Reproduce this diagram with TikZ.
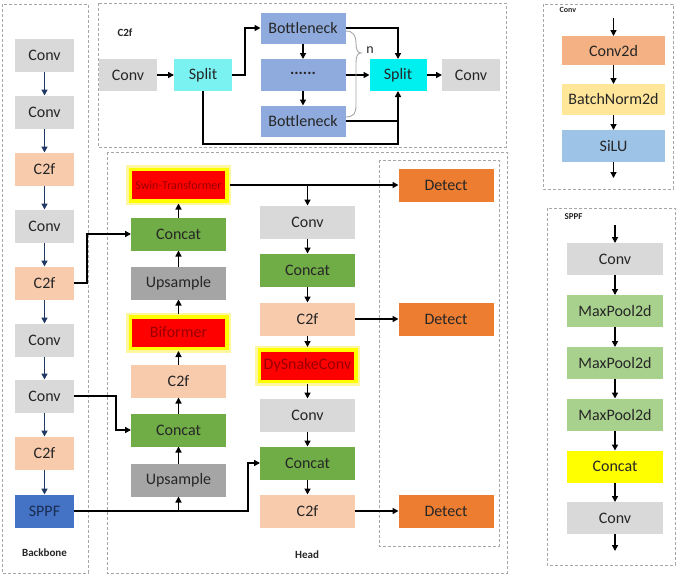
\documentclass[tikz,border=0pt]{standalone}
\usepackage{fontspec}
\setmainfont{Carlito}
\usetikzlibrary{arrows.meta}
\definecolor{cgray}{HTML}{D9D9D9}
\definecolor{cpeach}{HTML}{F8CBAD}
\definecolor{cgreen}{HTML}{70AD47}
\definecolor{cup}{HTML}{A5A5A5}
\definecolor{corange}{HTML}{ED7D31}
\definecolor{cred}{HTML}{FF0000}
\definecolor{credtxt}{HTML}{9A0000}
\definecolor{csplitA}{HTML}{7AF2F2}
\definecolor{csplitB}{HTML}{00F0F0}
\definecolor{cbneck}{HTML}{8FAADC}
\definecolor{csppf}{HTML}{4472C4}
\definecolor{cmp}{HTML}{A9D18E}
\definecolor{cyel}{HTML}{FFFF00}
\definecolor{cconv2d}{HTML}{F4B183}
\definecolor{cbn}{HTML}{FFE699}
\definecolor{csilu}{HTML}{9DC3E6}
\definecolor{cnavy}{HTML}{1F3864}
\definecolor{cframe}{HTML}{A6A6A6}
\definecolor{ctext}{HTML}{262626}
\definecolor{cglow}{HTML}{FFF7A0}
\begin{document}
\begin{tikzpicture}[x=1pt,y=-1pt,
  blk/.style={inner sep=0pt, outer sep=0pt, minimum width=#1, minimum height=33pt,
     font=\fontsize{16}{18}\selectfont, text=ctext},
  blk/.default=59pt,
  hb/.style={blk=95pt},
  redbox/.style={inner sep=0pt, minimum width=93pt, minimum height=28pt, fill=cred,
     text=credtxt, font=\fontsize{16}{18}\selectfont, outer sep=4.5pt,
     preaction={draw=cglow, line width=12pt},
     preaction={draw=cyel, line width=7pt}},
  frame/.style={draw=cframe, line width=0.8pt, dash pattern=on 3pt off 2pt},
  lbl/.style={font=\bfseries\fontsize{11}{13}\selectfont, text=ctext},
  arr/.style={draw=black, line width=1.8pt, -{Triangle[length=6pt,width=6pt]}},
  ln/.style={draw=black, line width=1.8pt},
  narr/.style={draw=cnavy, line width=1.6pt, -{Triangle[length=6pt,width=6pt]}},
  parr/.style={draw=black, line width=1.4pt, -{Triangle[length=6pt,width=6pt]}}
]
\useasboundingbox[fill=white] (0,0) rectangle (685,576);

% ---------------- frames ----------------
\draw[frame] (2,4) rectangle (88,573);
\draw[frame] (98,3) rectangle (506,147);
\draw[frame] (107,152) rectangle (507,573);
\draw[frame] (379,160) rectangle (499,546);
\draw[frame] (543,4) rectangle (673,189);
\draw[frame] (547,208) rectangle (675,565);

% ---------------- backbone ----------------
\node[blk, fill=cgray]  (b1) at (44.5,55)  {Conv};
\node[blk, fill=cgray]  (b2) at (44.5,112) {Conv};
\node[blk, fill=cpeach] (b3) at (44.5,169) {C2f};
\node[blk, fill=cgray]  (b4) at (44.5,226) {Conv};
\node[blk, fill=cpeach] (b5) at (44.5,283) {C2f};
\node[blk, fill=cgray]  (b6) at (44.5,340) {Conv};
\node[blk, fill=cgray]  (b7) at (44.5,396) {Conv};
\node[blk, fill=cpeach] (b8) at (44.5,453) {C2f};
\node[blk, fill=csppf, text=cnavy!80!black] (b9) at (44.5,511) {SPPF};
\node[lbl] (bbl) at (44.5,553) {Backbone};
\foreach \a/\b in {b1/b2,b2/b3,b3/b4,b4/b5,b5/b6,b6/b7,b7/b8,b8/b9}
  \draw[narr] (\a) -- (\b);

% ---------------- C2f panel ----------------
\node[lbl] (c2flbl) at (125,33) {C2f};
\node[blk=58pt, minimum height=32pt, fill=cgray]   (cconv1)  at (128,75) {Conv};
\node[blk=58pt, minimum height=32pt, fill=csplitA] (csplit1) at (203,75) {Split};
\node[blk=85pt, minimum height=31pt, fill=cbneck]  (cbn1)    at (303,28) {Bottleneck};
\node[blk=85pt, minimum height=32pt, fill=cbneck]  (cdots)   at (303,75) {\raisebox{0.55ex}{\bfseries ......}};
\node[blk=85pt, minimum height=31pt, fill=cbneck]  (cbn2)    at (303,121) {Bottleneck};
\node[blk=57pt, minimum height=32pt, fill=csplitB] (csplit2) at (398,75) {Split};
\node[blk=58pt, minimum height=32pt, fill=cgray]   (cconv2)  at (471,75) {Conv};
\coordinate (cbot) at (398,144);
\draw[arr] (cconv1) -- (csplit1);
\draw[arr] (csplit1.east) -- ++(13,0) |- (cbn1.west);
\draw[parr] (cbn1) -- (cdots);
\draw[parr] (cdots) -- (cbn2);
\draw[arr] (cbn1.east) -| (csplit2.north);
\draw[arr] (cdots) -- (csplit2);
\draw[ln] (cbn2.east) -- (cbn2.east -| cbot);
\draw[arr] (csplit1.south) |- (cbot) -- (csplit2.south);
\draw[arr] (csplit2) -- (cconv2);
\draw[draw=gray!70, line width=0.9pt] (345.5,31) .. controls (354,31) and (356,36) .. (356,44)
   .. controls (356,50) and (358,53) .. (361,53)
   .. controls (358,53) and (356,56) .. (356,62) -- (356,105)
   .. controls (356,113) and (354,117) .. (345.5,117);
\node[font=\fontsize{14}{16}\selectfont, text=ctext] (nlbl) at (370,50) {n};

% ---------------- Head ----------------
\node[lbl] (hlbl) at (307,555) {Head};
\node[redbox, font=\fontsize{12}{14}\selectfont] (hswin) at (178.5,185) {Swin-Transformer};
\node[hb, fill=cgreen] (hcat1) at (178.5,234) {Concat};
\node[hb, fill=cup]    (hup1)  at (178.5,283) {Upsample};
\node[redbox]          (hbif)  at (178.5,332.5) {Biformer};
\node[hb, fill=cpeach] (hc2f1) at (178.5,381) {C2f};
\node[hb, fill=cgreen] (hcat2) at (178.5,430) {Concat};
\node[hb, fill=cup]    (hup2)  at (178.5,480) {Upsample};

\node[hb, fill=cgray]  (mconv1) at (307.5,222) {Conv};
\node[hb, fill=cgreen] (mcat1)  at (307.5,270) {Concat};
\node[hb, fill=cpeach] (mc2f1)  at (307.5,319) {C2f};
\node[redbox]          (mdsc)   at (307.5,365.5) {DySnakeConv};
\node[hb, fill=cgray]  (mconv2) at (307.5,415) {Conv};
\node[hb, fill=cgreen] (mcat2)  at (307.5,463) {Concat};
\node[hb, fill=cpeach] (mc2f2)  at (307.5,511) {C2f};

\node[hb, fill=corange] (d1) at (446,185) {Detect};
\node[hb, fill=corange] (d2) at (446,319) {Detect};
\node[hb, fill=corange] (d3) at (446,511) {Detect};

\draw[arr] (hup2) -- (hcat2);
\draw[arr] (hcat2) -- (hc2f1);
\draw[arr] (hc2f1) -- (hbif);
\draw[arr] (hbif) -- (hup1);
\draw[arr] (hup1) -- (hcat1);
\draw[arr] (hcat1) -- (hswin);

\draw[arr] (hswin.east) -- (d1.west);
\draw[arr] (hswin.east -| mconv1.north) -- (mconv1.north);
\draw[arr] (mconv1) -- (mcat1);
\draw[arr] (mcat1) -- (mc2f1);
\draw[arr] (mc2f1) -- (mdsc);
\draw[arr] (mdsc) -- (mconv2);
\draw[arr] (mconv2) -- (mcat2);
\draw[arr] (mcat2) -- (mc2f2);
\draw[arr] (mc2f1) -- (d2);
\draw[arr] (mc2f2) -- (d3);

\coordinate (j3) at (248,511);
\draw[arr] (b5.east) -- ++(13,0) |- (hcat1.west);
\draw[arr] (b7.east) -- ++(42,0) |- (hcat2.west);
\draw[arr] (b9.east) -- (j3) |- (mcat2.west);
\draw[arr] (b9.east -| hup2.south) -- (hup2.south);

% ---------------- Conv panel ----------------
\node[font=\bfseries\fontsize{8}{10}\selectfont, text=ctext, anchor=west] (klbl) at (556,10) {Conv};
\coordinate (ktop) at (613.5,18);
\coordinate (kbot) at (613.5,178);
\node[blk=103pt, minimum height=29pt, fill=cconv2d] (kconv) at (613.5,50.5) {Conv2d};
\node[blk=103pt, minimum height=31pt, fill=cbn]     (kbn)   at (613.5,99.5) {BatchNorm2d};
\node[blk=103pt, minimum height=32pt, fill=csilu]   (ksilu) at (613.5,146) {SiLU};
\draw[parr] (ktop) -- (kconv);
\draw[parr] (kconv) -- (kbn);
\draw[parr] (kbn) -- (ksilu);
\draw[parr] (ksilu) -- (kbot);

% ---------------- SPPF panel ----------------
\node[font=\bfseries\fontsize{9}{11}\selectfont, text=ctext, anchor=west] (slbl) at (561,217) {SPPF};
\coordinate (stop) at (615,225);
\coordinate (sbot) at (615,551);
\node[blk=96pt, minimum height=32pt, fill=cgray] (sconv1) at (615,259) {Conv};
\node[blk=96pt, minimum height=32pt, fill=cmp]   (smp1)   at (615,311) {MaxPool2d};
\node[blk=96pt, minimum height=32pt, fill=cmp]   (smp2)   at (615,363) {MaxPool2d};
\node[blk=96pt, minimum height=32pt, fill=cmp]   (smp3)   at (615,414.5) {MaxPool2d};
\node[blk=96pt, minimum height=32pt, fill=cyel]  (scat)   at (615,466.5) {Concat};
\node[blk=96pt, minimum height=32pt, fill=cgray] (sconv2) at (615,518) {Conv};
\draw[parr] (stop) -- (sconv1);
\draw[parr] (sconv1) -- (smp1);
\draw[parr] (smp1) -- (smp2);
\draw[parr] (smp2) -- (smp3);
\draw[parr] (smp3) -- (scat);
\draw[parr] (scat) -- (sconv2);
\draw[parr] (sconv2) -- (sbot);
\end{tikzpicture}
\end{document}
